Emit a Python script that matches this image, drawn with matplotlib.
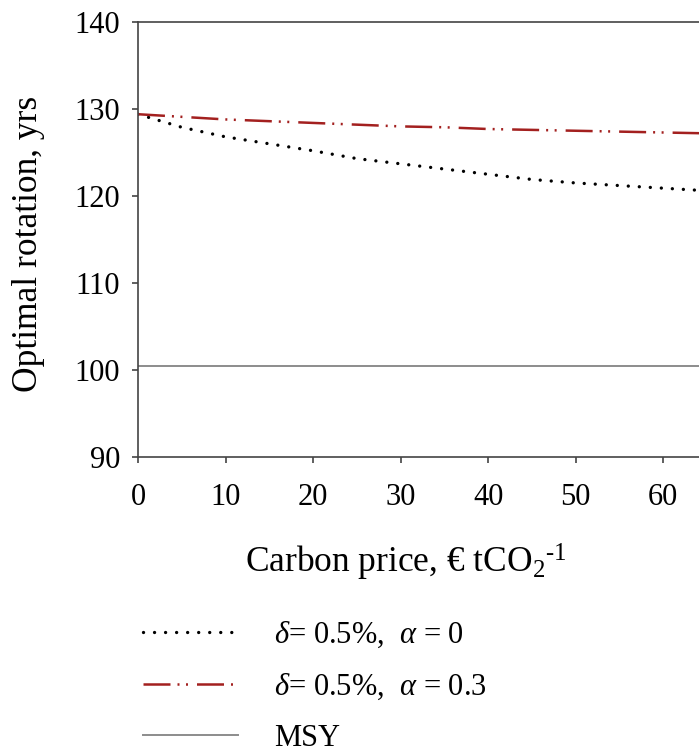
import numpy as np
import matplotlib.pyplot as plt
from matplotlib.lines import Line2D

plt.rcParams['font.family'] = 'Liberation Serif'
plt.rcParams['mathtext.fontset'] = 'custom'
plt.rcParams['mathtext.rm'] = 'Liberation Serif'
plt.rcParams['mathtext.it'] = 'Liberation Serif:italic'

# carbon price, EUR per tCO2
price = [0, 5, 10, 15, 20, 25, 30, 35, 40, 45, 50, 55, 60, 65]
# optimal rotation, delta = 0.5 %, alpha = 0
rot_a0 = [129.4, 127.9, 126.8, 126.0, 125.2, 124.3, 123.7, 123.1, 122.5, 121.9, 121.5, 121.2, 120.9, 120.6]
# optimal rotation, delta = 0.5 %, alpha = 0.3
rot_a03 = [129.4, 129.1, 128.8, 128.6, 128.4, 128.2, 128.0, 127.9, 127.7, 127.6, 127.5, 127.4, 127.3, 127.2]
msy = 100.5

dots = (0, (0.01, 3.3))
dashdotdot = (0, (10.8, 2.8, 0.8, 2.6, 0.8, 3.6))
red = '#a3201f'
grey = '#8c8c8c'

fig = plt.figure(figsize=(6.99, 7.56), dpi=100)
ax = fig.add_axes([0.1974, 0.3955, 0.8026, 0.5754])

ax.plot(price, rot_a0, color='black', lw=2.4, linestyle=dots,
        dash_capstyle='round')
ax.plot(price, rot_a03, color=red, lw=1.8, linestyle=dashdotdot)
ax.axhline(msy, color=grey, lw=1.4)

ax.set_xlim(0, 64.1)
ax.set_ylim(90, 140)
ax.set_xticks(range(0, 70, 10))
ax.set_yticks(range(90, 150, 10))
ax.spines['right'].set_visible(False)
for s in ['left', 'bottom', 'top']:
    ax.spines[s].set_color('#444444')
    ax.spines[s].set_linewidth(1.2)
ax.tick_params(direction='out', length=4, width=1.2, color='#444444',
               labelsize=22)
ax.tick_params(axis='y', pad=9)
ax.tick_params(axis='x', pad=15)
ax.set_ylabel('Optimal rotation, yrs', fontsize=25.5)
ax.yaxis.set_label_coords(-0.166, 0.49)

fig.text(0.35, 0.242, r'Carbon price, € tCO$_2$$^{\text{-1}}$',
         fontsize=25.5, ha='left', va='baseline')

handles = [
    Line2D([], [], color='black', lw=2.4, linestyle=dots,
           dash_capstyle='round'),
    Line2D([], [], color=red, lw=1.8, linestyle=dashdotdot),
    Line2D([], [], color=grey, lw=1.4),
]
labels = [r'$\delta$= 0.5%,  $\alpha$ = 0',
          r'$\delta$= 0.5%,  $\alpha$ = 0.3',
          'MSY']
fig.legend(handles, labels, loc='upper left', bbox_to_anchor=(0.187, 0.197),
           frameon=False, fontsize=22, handlelength=3.1, handletextpad=1.2,
           labelspacing=0.72, borderaxespad=0)

fig.savefig('out.png', dpi=100)
